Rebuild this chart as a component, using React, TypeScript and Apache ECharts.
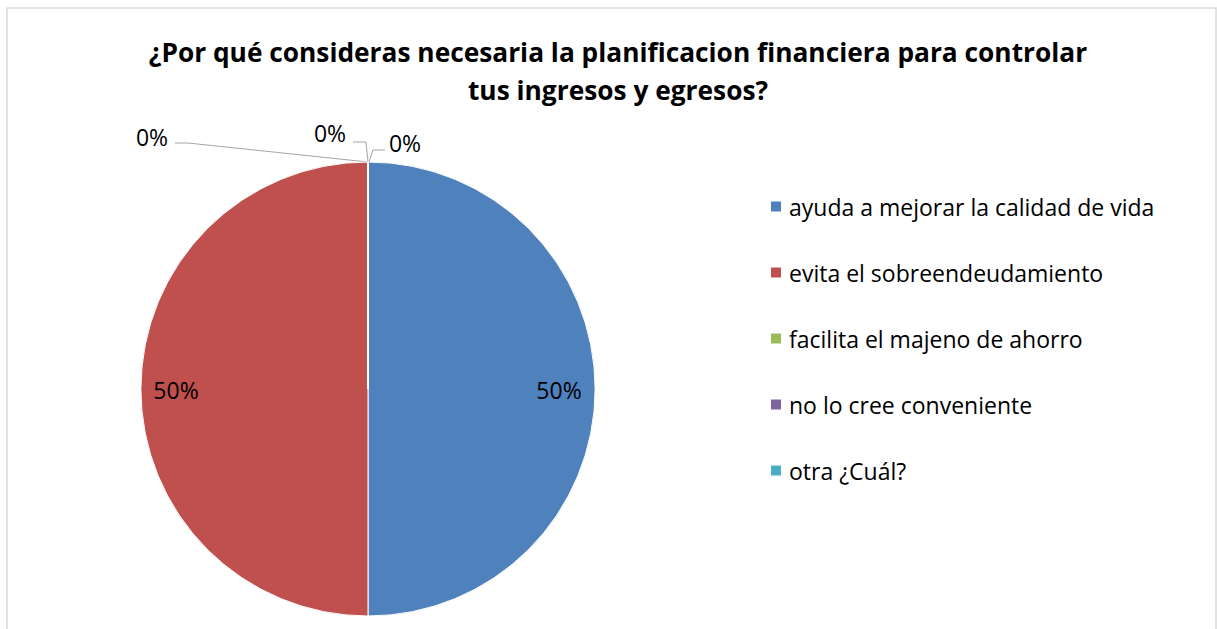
import React, { useEffect, useRef } from "react";
import * as echarts from "echarts";

const TITLE = "¿Por qué consideras necesaria la planificacion financiera para controlar\ntus ingresos y egresos?";
const categories = [
  "ayuda a mejorar la calidad de vida",
  "evita el sobreendeudamiento",
  "facilita el majeno de ahorro",
  "no lo cree conveniente",
  "otra ¿Cuál?",
];
const values = [50, 50, 0, 0, 0];
const colors = ["#4F81BD", "#C0504D", "#9BBB59", "#8064A2", "#4BACC6"];

const FONT = "'Open Sans', 'Noto Sans', sans-serif";

// label placements (layout, not data)
const labelPos: Record<number, { x: number; y: number; line?: number[][] }> = {
  0: { x: 559, y: 390 },
  1: { x: 176, y: 390 },
  2: { x: 152, y: 137, line: [[368, 162], [188, 143], [175, 143]] },
  3: { x: 330, y: 133, line: [[368, 162], [366, 142], [353, 142]] },
  4: { x: 405, y: 143, line: [[369, 162], [373, 150], [385, 150]] },
};

export default function App() {
  const ref = useRef<HTMLDivElement>(null);
  useEffect(() => {
    document.body.style.margin = "0";
    const chart = echarts.init(ref.current!, null, { renderer: "svg" });
    chart.setOption({
      animation: false,
      backgroundColor: "#ffffff",
      title: {
        text: TITLE,
        left: 613,
        top: 28,
        textAlign: "center",
        textStyle: {
          fontFamily: FONT,
          fontWeight: "bold",
          fontSize: 26.3,
          lineHeight: 38,
          color: "#000",
        },
      },
      legend: {
        orient: "vertical",
        left: 769,
        top: 195,
        padding: 0,
        icon: "rect",
        itemWidth: 12,
        itemHeight: 12,
        itemGap: 43,
        data: categories,
        textStyle: { fontFamily: FONT, fontSize: 23, color: "#000", padding: [0, 0, 0, 2] },
        selectedMode: false,
      },
      graphic: [
        {
          type: "rect",
          shape: { x: 7, y: 8, width: 1209, height: 640 },
          style: { fill: "none", stroke: "#d9d9d9", lineWidth: 1.5 },
          silent: true,
        },
      ],
      series: [
        {
          type: "pie",
          center: [368, 389],
          radius: 227,
          startAngle: 90,
          clockwise: true,
          color: colors,
          itemStyle: { borderColor: "#ffffff", borderWidth: 1 },
          label: {
            show: true,
            position: "outside",
            fontFamily: FONT,
            fontSize: 23,
            color: "#000",
            formatter: (p: any) => Math.round(p.percent) + "%",
          },
          labelLine: { show: true, lineStyle: { color: "#a6a6a6", width: 1 } },
          labelLayout: (params: any) => {
            const lp = labelPos[params.dataIndex];
            if (!lp) return {};
            const r: any = { x: lp.x, y: lp.y, align: "center", verticalAlign: "middle" };
            if (lp.line) r.labelLinePoints = lp.line;
            return r;
          },
          data: categories.map((c, i) => ({
            name: c,
            value: values[i],
            labelLine: { show: i >= 2 },
          })),
        },
      ],
    });
    return () => chart.dispose();
  }, []);
  return <div ref={ref} style={{ width: 1217, height: 629 }} />;
}
